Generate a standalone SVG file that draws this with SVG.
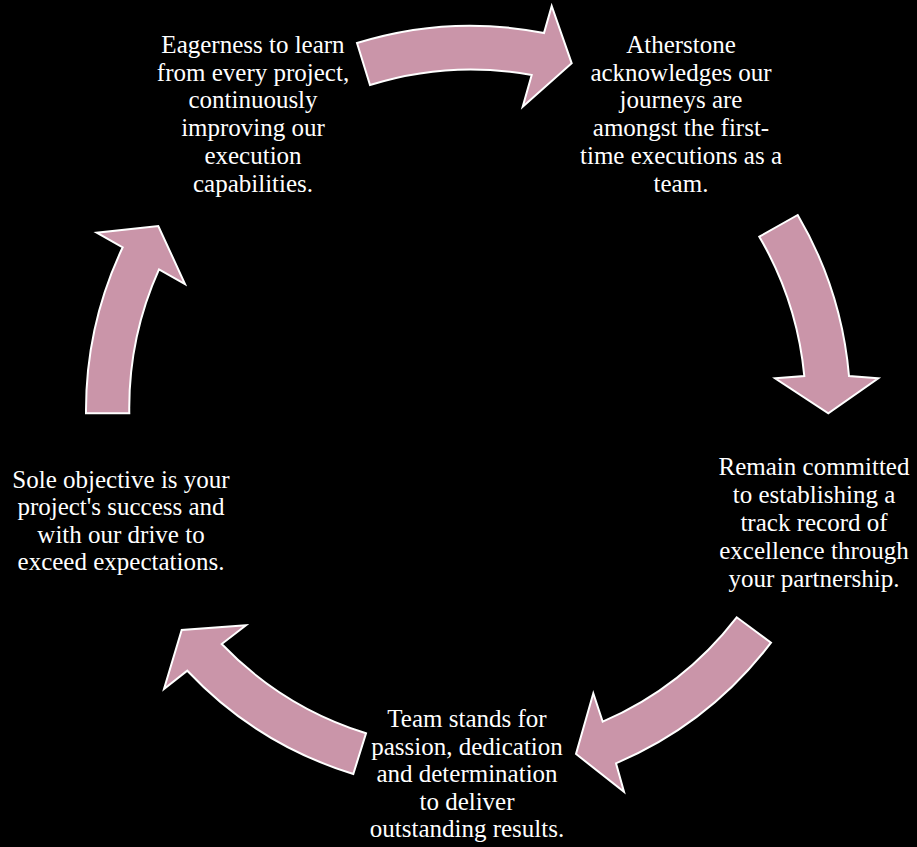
<svg xmlns="http://www.w3.org/2000/svg" width="917" height="847" viewBox="0 0 917 847">
<style>
.arr{fill:#CA95A9;stroke:#FFFFFF;stroke-width:2;stroke-linejoin:miter}
.t{font-family:"Liberation Serif","DejaVu Serif",serif;font-size:25px;fill:#FFFFFF;text-anchor:middle}
</style>
<rect width="917" height="847" fill="#000000"/>
<g id="connectors">
<path id="arrow1" class="arr" d="M357,43 A383,383 0 0 1 544,33 L551.7,6 L571.7,63.3 L522.7,106.7 L531.7,75 A339,339 0 0 0 370,85 Z"/>
<path id="arrow2" class="arr" d="M797.7,215 A383,383 0 0 1 849,376 L878.3,378.3 L828.3,413.3 L775,378.3 L804.3,376 A339,339 0 0 0 759.3,236.7 Z"/>
<path id="arrow3" class="arr" d="M771,642.7 A384,384 0 0 1 616,763.3 L624,791.7 L576,754 L593.3,693.3 L602.7,721.7 A341,341 0 0 0 736.7,617.3 Z"/>
<path id="arrow4" class="arr" d="M353.3,774 A383,383 0 0 1 187.3,670.7 L164,689 L181.7,630 L246,625.3 L221.7,644 A340,340 0 0 0 366,733.3 Z"/>
<path id="arrow5" class="arr" d="M86,413.3 A381,381 0 0 1 122.7,247.3 L96.7,232.7 L158.3,226 L185,284 L159,269.3 A338,338 0 0 0 129.3,413.3 Z"/>
</g>
<g id="node1">
<text class="t" x="253" y="53">Eagerness to learn</text>
<text class="t" x="253" y="80.7">from every project,</text>
<text class="t" x="253" y="108.4">continuously</text>
<text class="t" x="253" y="136.1">improving our</text>
<text class="t" x="253" y="163.8">execution</text>
<text class="t" x="253" y="191.5">capabilities.</text>
</g>
<g id="node2">
<text class="t" x="681" y="53">Atherstone</text>
<text class="t" x="681" y="80.7">acknowledges our</text>
<text class="t" x="681" y="108.4">journeys are</text>
<text class="t" x="681" y="136.1">amongst the first-</text>
<text class="t" x="681" y="163.8">time executions as a</text>
<text class="t" x="681" y="191.5">team.</text>
</g>
<g id="node3">
<text class="t" x="814" y="475">Remain committed</text>
<text class="t" x="814" y="503">to establishing a</text>
<text class="t" x="814" y="531">track record of</text>
<text class="t" x="814" y="559">excellence through</text>
<text class="t" x="814" y="587">your partnership.</text>
</g>
<g id="node4">
<text class="t" x="467" y="727">Team stands for</text>
<text class="t" x="467" y="755">passion, dedication</text>
<text class="t" x="467" y="782">and determination</text>
<text class="t" x="467" y="810">to deliver</text>
<text class="t" x="467" y="837">outstanding results.</text>
</g>
<g id="node5">
<text class="t" x="121" y="488">Sole objective is your</text>
<text class="t" x="121" y="515">project's success and</text>
<text class="t" x="121" y="543">with our drive to</text>
<text class="t" x="121" y="570">exceed expectations.</text>
</g>
</svg>
